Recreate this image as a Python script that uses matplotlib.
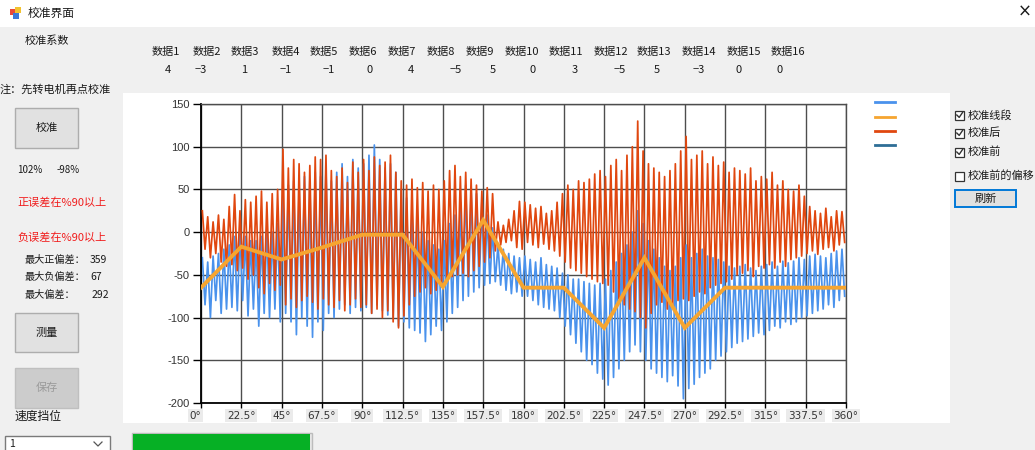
import numpy as np
import matplotlib
matplotlib.use('Agg')
import matplotlib.pyplot as plt
from matplotlib.patches import Rectangle
from matplotlib.lines import Line2D

plt.rcParams['font.family'] = ['Noto Sans CJK SC', 'DejaVu Sans']

# ---------------- data ----------------
coef_labels = ['数据1', '数据2', '数据3', '数据4', '数据5', '数据6', '数据7', '数据8',
               '数据9', '数据10', '数据11', '数据12', '数据13', '数据14', '数据15', '数据16']
coef_values = [4, -3, 1, -1, -1, 0, 4, -5, 5, 0, 3, -5, 5, -3, 0, 0]

seg_angles = [0, 22.5, 45, 67.5, 90, 112.5, 135, 157.5, 180, 202.5, 225, 247.5,
              270, 292.5, 315, 337.5, 360]
seg_values = [-65, -17, -32, -18, -3, -3, -64, 14, -65, -65, -112, -30, -112,
              -65, -65, -65, -65]

y_ticks = [150, 100, 50, 0, -50, -100, -150, -200]
x_tick_labels = ['0°', '22.5°', '45°', '67.5°', '90°', '112.5°', '135°', '157.5°', '180°',
                 '202.5°', '225°', '247.5°', '270°', '292.5°', '315°', '337.5°', '360°']

# oscillating traces: successive peaks / troughs (one pair per 3 degrees)
red_top = [25, 18, 12, 20, 15,   30, 44, 25, 38, 35,   42, 48, 35, 45, 50,
           97, 75, 85, 80, 70,   78, 88, 85, 90, 72,   65, 75, 58, 82, 70,
           85, 72, 88, 78, 82,   90, 70, 60, 55, 62,   52, 58, 48, 55, 50,
           60, 72, 78, 65, 70,   62, 55, 48, 52, 45,   12, 8, 15, 25, 36,
           35, 32, 28, 30, 22,   25, 35, 45, 55, 50,   60, 58, 62, 68, 72,
           65, 78, 85, 72, 90,   100, 130, 95, 80, 75, 70, 65, 72, 80, 95,
           112, 85, 90, 95, 80,  88, 78, 82, 70, 75,   72, 68, 75, 60, 65,
           62, 70, 55, 60, 50,   48, 55, 42, 30, 25,   22, 28, 18, 25, 24]
red_bot = [-20, -30, -25, -35, -40,   -38, -45, -42, -55, -50,   -65, -72, -60, -68, -62,
           -85, -78, -88, -80, -75,   -82, -90, -78, -85, -88,   -80, -92, -85, -78, -88,
           -85, -95, -90, -100, -92,  -105, -112, -98, -85, -75,  -70, -65, -72, -68, -60,
           -55, -52, -50, -48, -52,   -45, -40, -35, -30, -22,   -15, -12, -10, -18, -20,
           -12, -15, -18, -14, -20,   -22, -28, -35, -42, -45,   -48, -52, -55, -58, -60,
           -62, -70, -78, -85, -90,   -93, -100, -112, -95, -85,  -82, -90, -85, -80, -78,
           -80, -75, -70, -72, -65,   -62, -60, -58, -55, -50,   -48, -45, -52, -40, -42,
           -38, -42, -35, -40, -32,   -30, -28, -25, -22, -26,   -20, -18, -22, -15, -12]
blue_top = [-30, -35, -28, -25, -20,   -15, -5, 0, -5, -10,   -10, -5, 5, 0, 10,
            40, 55, 60, 50, 65,   60, 70, 65, 75, 60,   70, 80, 65, 85, 75,
            80, 90, 102, 85, 75,  80, 70, 50, 40, 30,   10, 0, -10, -15, -20,
            -10, 10, 20, 35, 55,  50, 45, 35, 20, 5,    -15, -20, -25, -28, -30,
            -28, -32, -35, -30, -38,   -40, -42, -48, -50, -55,   -55, -58, -60, -62, -60,
            -55, -45, -35, -25, -15,   0, 25, 10, -10, -20,   -30, -40, -45, -40, -30,
            -15, -30, -25, -20, -28,   -30, -32, -35, -40, -42,   -40, -38, -42, -45, -40,
            -38, -35, -40, -34, -36,   -34, -30, -32, -28, -26,   -28, -30, -25, -22, -20]
blue_bot = [-85, -100, -80, -95, -90,   -88, -92, -80, -98, -90,   -110, -95, -100, -90, -105,
            -95, -105, -120, -100, -110,   -123, -105, -115, -95, -100,   -90, -85, -95, -88, -92,
            -88, -95, -85, -92, -97,   -100, -110, -105, -112, -115,   -118, -128, -120, -110, -115,
            -105, -95, -88, -80, -75,   -70, -65, -62, -60, -58,   -62, -68, -72, -70, -75,
            -75, -80, -85, -88, -90,   -92, -100, -110, -120, -130,   -140, -150, -155, -165, -172,
            -179, -170, -160, -150, -140,   -132, -140, -150, -160, -165,   -170, -175, -168, -180, -195,
            -183, -178, -170, -165, -160,   -150, -145, -140, -135, -130,   -128, -125, -122, -118, -120,
            -115, -110, -112, -105, -108,   -105, -100, -98, -95, -92,   -90, -85, -88, -80, -75]

# ---------------- figure ----------------
W, H = 1035, 450
fig = plt.figure(figsize=(W / 100, H / 100), dpi=100)
fig.patch.set_facecolor('#f0f0f0')

bg = fig.add_axes([0, 0, 1, 1])
bg.set_xlim(0, W)
bg.set_ylim(H, 0)
bg.axis('off')
bg.set_zorder(0)

FS = 8
TXT = '#1a1a1a'


def rect(x0, y0, x1, y1, fc, ec='none', lw=1.0, z=1):
    bg.add_patch(Rectangle((x0, y0), x1 - x0, y1 - y0, facecolor=fc, edgecolor=ec,
                           linewidth=lw, zorder=z))


def txt(x, y, s, ha='left', color=TXT, size=FS, **kw):
    bg.text(x, y, s, ha=ha, va='center', color=color, fontsize=size, zorder=5, **kw)


# title bar
rect(0, 0, W, 27, 'white')
rect(10, 9, 16, 15, '#e84a3a', z=2)
rect(15, 7, 21, 13, '#f2c230', z=2)
rect(13, 13, 19, 19, '#3a78d8', z=2)
txt(28, 13, '校准界面', size=8.5)
txt(1025, 12, '×', ha='center', size=12, family=['DejaVu Sans'])

# chart panel
rect(123, 93, 950, 423, 'white')

# coefficient table
txt(25, 41, '校准系数')
name_x = [166, 207, 245, 286, 324, 363, 402, 441, 480, 522, 566, 611, 654, 699, 744, 788]
val_x = [168, 201, 244, 286, 329, 370, 411, 456, 493, 533, 575, 620, 657, 699, 739, 780]
for nx, vx, lab, v in zip(name_x, val_x, coef_labels, coef_values):
    txt(nx, 52, lab, ha='center')
    txt(vx, 70, str(v).replace('-', '−'), ha='center')

# left panel
txt(0, 90, '注：先转电机再点校准')


def button(x0, y0, x1, y1, label, enabled=True, ec='#adadad', lw=1.0):
    fc = '#e1e1e1' if enabled else '#cccccc'
    rect(x0, y0, x1, y1, fc, ec if enabled else '#bfbfbf', lw=lw, z=2)
    txt((x0 + x1) / 2, (y0 + y1) / 2, label, ha='center',
        color=TXT if enabled else '#9a9a9a')


button(15, 108, 78, 148, '校准')
txt(17, 170, '102%', size=7)
txt(57, 170, '-98%', size=7)
txt(17, 203, '正误差在%90以上', color='#f01c1c')
txt(17, 238, '负误差在%90以上', color='#f01c1c')
txt(25, 260, '最大正偏差：', size=7.3)
txt(90, 260, '359', size=7.5)
txt(25, 277, '最大负偏差：', size=7.3)
txt(90, 277, '67', size=7.5)
txt(25, 295, '最大偏差：', size=7.3)
txt(92, 295, '292', size=7.5)
button(15, 313, 78, 352, '测量')
button(15, 368, 78, 408, '保存', enabled=False)
txt(15, 416, '速度挡位', size=8.5)

# combobox
rect(5, 436, 110, 452, 'white', '#7a7a7a', z=2)
txt(9, 444, '1', size=7.5)
bg.plot([94, 98, 102], [442, 446, 442], color='#555555', lw=0.9, zorder=5)

# progress bar
rect(132, 433, 312, 452, '#e6e6e6', '#bcbcbc', z=2)
rect(133, 434, 310, 452, '#06b025', z=3)

# checkboxes
checks = [('校准线段', 115, True), ('校准后', 133, True), ('校准前', 152, True),
          ('校准前的偏移', 176, False)]
for label, yc, on in checks:
    rect(955, yc - 4.5, 964, yc + 4.5, 'white', '#333333', lw=0.9, z=3)
    if on:
        bg.plot([956.8, 959.2, 962.6], [yc, yc + 2.4, yc - 2.6], color='#333333',
                lw=1.0, zorder=5)
    txt(968, yc, label)

button(955, 190, 1016, 207, '刷新', ec='#0078d7', lw=1.4)

# ---------------- chart ----------------
ax = fig.add_axes([201 / W, 1 - 403 / H, (846 - 201) / W, (403 - 104) / H])
ax.set_zorder(2)
ax.set_facecolor('white')

n = len(red_top)
step = 360.0 / n
xs = np.empty(2 * n)
xs[0::2] = np.arange(n) * step + 0.25 * step
xs[1::2] = np.arange(n) * step + 0.75 * step


def zig(top, bot):
    y = np.empty(2 * n)
    y[0::2] = top
    y[1::2] = bot
    return y


c_blue, c_orange, c_red, c_teal = '#4a92ec', '#f6a530', '#e0470f', '#2e6e96'
ax.plot(xs, zig(blue_top, blue_bot), color=c_blue, lw=1.25, zorder=2)
ax.plot(xs, zig(red_top, red_bot), color=c_red, lw=1.25, zorder=3)
ax.plot(seg_angles, seg_values, color=c_orange, lw=2.8, zorder=4, solid_joinstyle='miter')

ax.set_xlim(0, 360)
ax.set_ylim(-200, 150)
ax.set_xticks(seg_angles)
ax.set_xticklabels(x_tick_labels)
ax.set_yticks(y_ticks)
ax.set_yticklabels([str(v) for v in y_ticks])
ax.set_axisbelow(True)
ax.grid(True, color='#4d4d4d', lw=1.0)
for s in ax.spines.values():
    s.set_color('#4d4d4d')
    s.set_linewidth(1.0)
ax.spines['left'].set_color('black')
ax.spines['bottom'].set_color('black')
ax.spines['left'].set_linewidth(1.3)
ax.spines['bottom'].set_linewidth(1.3)
ax.tick_params(axis='y', length=6, width=1.0, color='black', pad=2,
               labelsize=8, labelcolor='#333333')
ax.tick_params(axis='x', length=3.5, width=1.0, color='black', pad=2,
               labelsize=7.5, labelcolor='#333333')
for lab in ax.get_yticklabels():
    lab.set_fontfamily(['Liberation Sans', 'DejaVu Sans'])
for i, lab in enumerate(ax.get_xticklabels()):
    lab.set_fontfamily(['DejaVu Sans'])
    lab.set_bbox(dict(facecolor='#ebebeb', edgecolor='none', pad=1.2))
    if i == 0:
        lab.set_horizontalalignment('right')

handles = [Line2D([], [], color=c, lw=2.0) for c in (c_blue, c_orange, c_red, c_teal)]
ax.legend(handles=handles, labels=['', '', '', ''], loc='upper left',
          bbox_to_anchor=(875 / W, 1 - 98 / H), bbox_transform=fig.transFigure,
          frameon=False, handlelength=1.8, handletextpad=0.0, labelspacing=0.4,
          borderpad=0.0, borderaxespad=0.0, fontsize=8)

fig.savefig('out.png', dpi=100, facecolor=fig.get_facecolor())
